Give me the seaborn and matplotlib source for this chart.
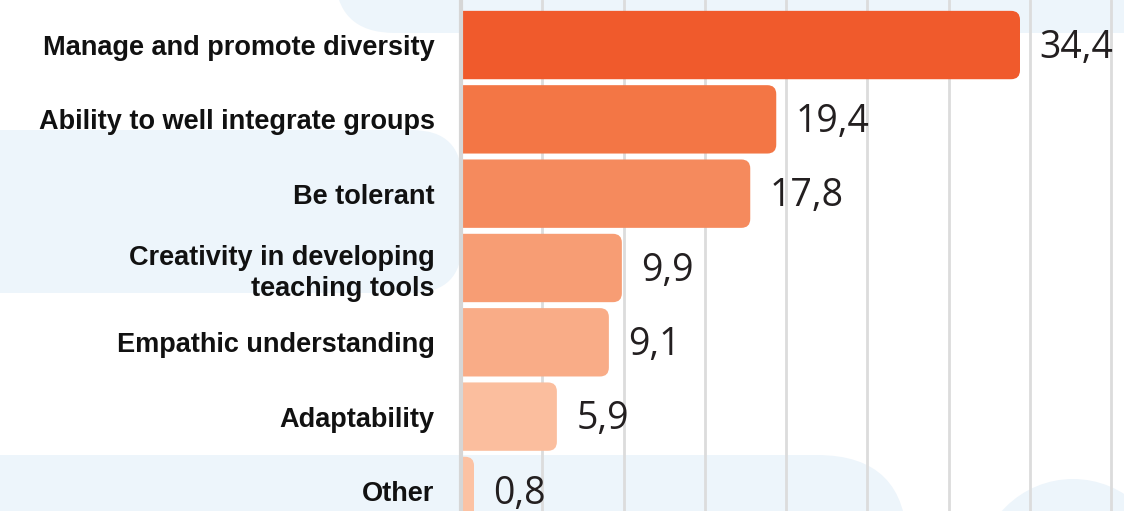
import matplotlib
matplotlib.use("Agg")
import matplotlib.pyplot as plt
from matplotlib.patches import FancyBboxPatch, Circle
from matplotlib.transforms import IdentityTransform
import seaborn as sns
import pandas as pd

categories = [
    "Manage and promote diversity",
    "Ability to well integrate groups",
    "Be tolerant",
    "Creativity in developing\nteaching tools",
    "Empathic understanding",
    "Adaptability",
    "Other",
]
values = [34.4, 19.4, 17.8, 9.9, 9.1, 5.9, 0.8]
value_labels = ["34,4", "19,4", "17,8", "9,9", "9,1", "5,9", "0,8"]
colors = ["#F05A2C", "#F37645", "#F58A5D", "#F79D74", "#F9AC87", "#FBBE9E", "#FCC2A3"]

df = pd.DataFrame({"category": categories, "value": values})

sns.set_theme(style="white")
W, H = 1124, 511
fig = plt.figure(figsize=(W / 100, H / 100), dpi=100)
fig.patch.set_facecolor("white")

# background decorative blobs (pixel coordinates)
blue = "#EDF5FB"
def px_box(x0, y0_img, x1, y1_img, r):
    p = FancyBboxPatch((x0, H - y1_img), x1 - x0, y1_img - y0_img,
                       boxstyle=f"round,pad=0,rounding_size={r}",
                       transform=IdentityTransform(), facecolor=blue,
                       edgecolor="none", zorder=-5)
    fig.add_artist(p)

px_box(335, -300, 1400, 33, 60)
px_box(-200, 130, 462, 293, 50)
px_box(-200, 455, 907, 800, 90)
fig.add_artist(Circle((1073, H - 574), 95, transform=IdentityTransform(),
                      facecolor=blue, edgecolor="none", zorder=-5))

ax = fig.add_axes([461 / W, 0, 1 - 461 / W, 1])
ax.set_facecolor("none")

sns.barplot(data=df, x="value", y="category", hue="category", palette=colors,
            orient="h", width=0.92, legend=False, ax=ax, saturation=1)

ax.set_xlim(0, 40.8)
ax.set_ylim(6.27, -0.606)

# rounded right corners
xr = 0.55
yr = 0.12
bars = list(ax.patches)
for p in bars:
    x, y, w, h = p.get_x(), p.get_y(), p.get_width(), p.get_height()
    fc = p.get_facecolor()
    p.remove()
    rp = FancyBboxPatch((x - 3, y), w + 3, h,
                        boxstyle=f"round,pad=0,rounding_size={xr}",
                        mutation_aspect=yr / xr,
                        facecolor=fc, edgecolor="none", zorder=3)
    ax.add_patch(rp)

# gridlines
ax.set_xticks(range(0, 45, 5))
ax.grid(axis="x", color="#DCDCDC", linewidth=2)
ax.set_axisbelow(True)
ax.tick_params(axis="x", bottom=False, labelbottom=False)
for s in ["top", "right", "bottom"]:
    ax.spines[s].set_visible(False)
ax.spines["left"].set_color("#D6D6D6")
ax.spines["left"].set_linewidth(3)
ax.spines["left"].set_zorder(4)

ax.set_xlabel("")
ax.set_ylabel("")
ax.tick_params(axis="y", left=False, length=0, pad=19)
for lbl in ax.get_yticklabels():
    lbl.set_fontfamily("Liberation Sans")
    lbl.set_fontweight("bold")
    lbl.set_fontsize(19.5)
    lbl.set_color("#111111")
    lbl.set_linespacing(1.25)

for i, (v, t) in enumerate(zip(values, value_labels)):
    ax.text(v + 1.2, i + 0.17, t, va="baseline", ha="left", fontsize=27,
            fontfamily="Open Sans", color="#231F20", zorder=5)

fig.savefig("out.png", dpi=100)
